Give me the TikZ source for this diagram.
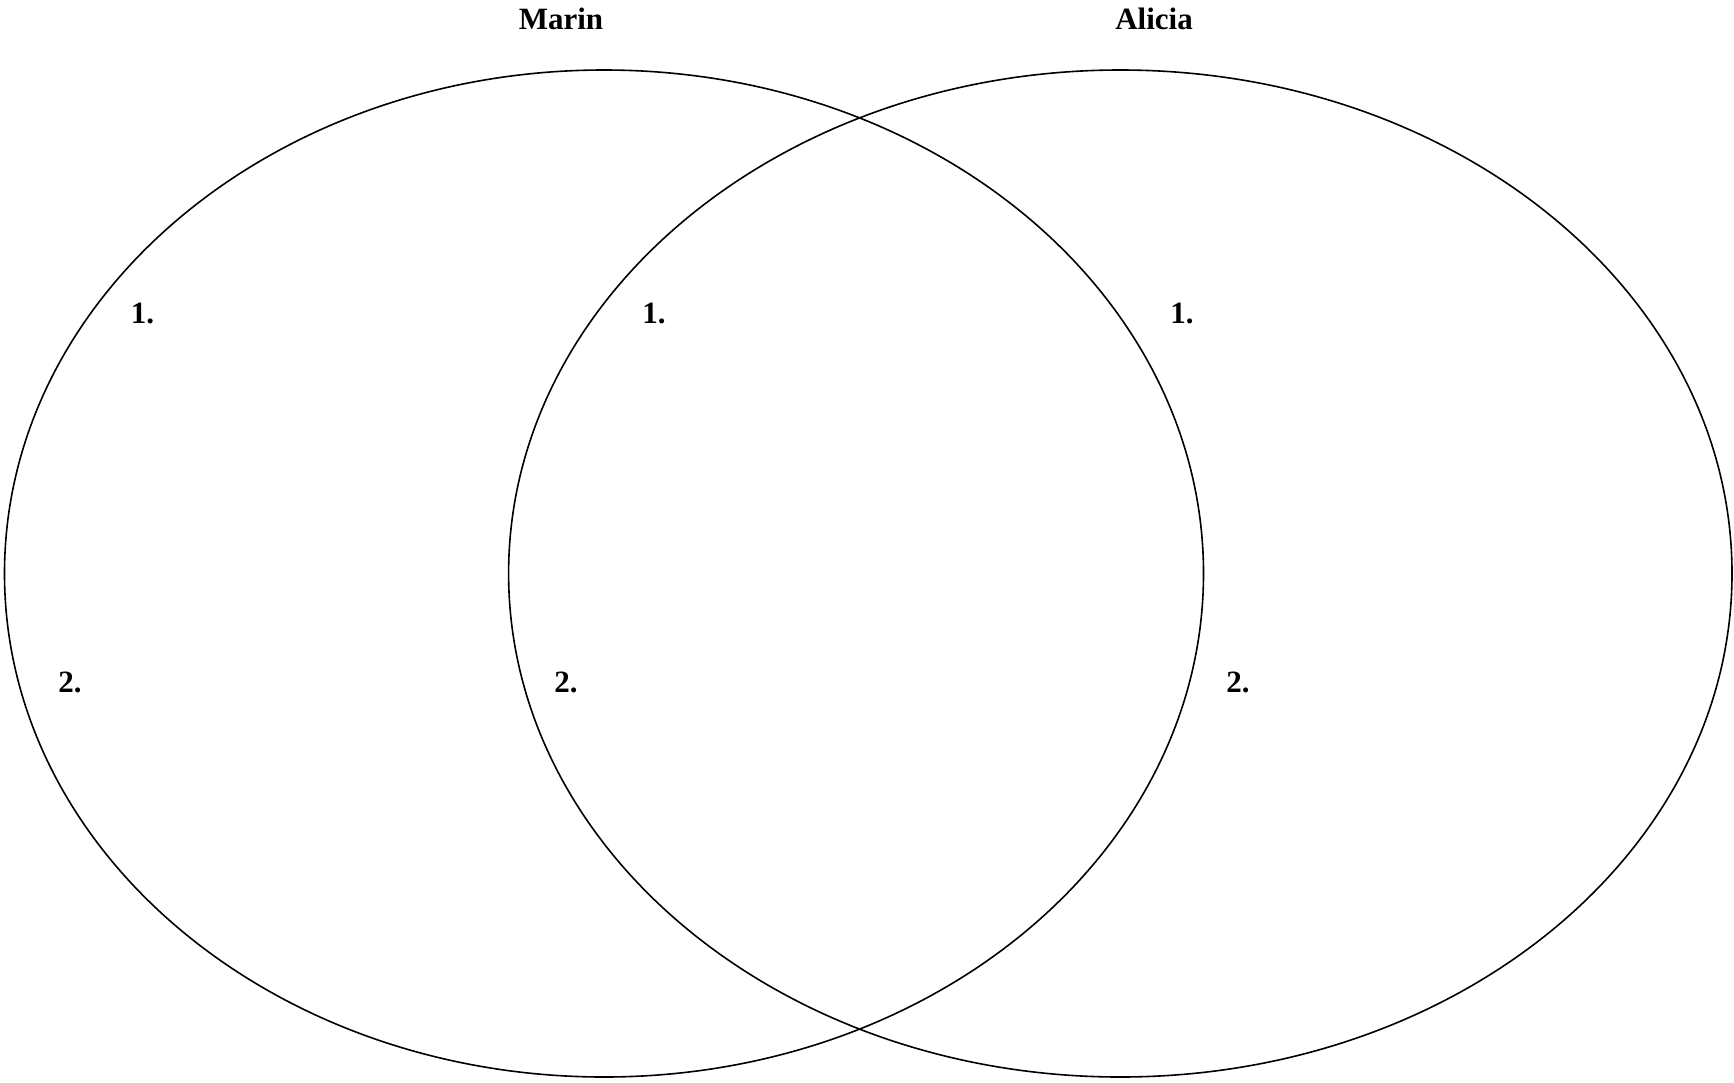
\documentclass[tikz,border=0pt]{standalone}
\usepackage{fontspec}
\setmainfont{Liberation Serif}
\begin{document}
\begin{tikzpicture}[x=1pt,y=-1pt,
  ring/.style={draw=black,line width=1.6pt},
  lbl/.style={anchor=base,inner sep=0pt,font=\fontsize{31}{37}\selectfont\bfseries}]
\useasboundingbox (0,0) rectangle (1734,1082);
\draw[ring] (604,573.5) ellipse [x radius=599.5, y radius=503.5];
\draw[ring] (1120.3,573.5) ellipse [x radius=611.7, y radius=503.5];
\node[lbl] (marin) at (561,29.5) {Marin};
\node[lbl] (alicia) at (1154,29.5) {Alicia};
\node[lbl] (l1) at (142.5,323) {1.};
\node[lbl] (m1) at (654,323) {1.};
\node[lbl] (r1) at (1182,323) {1.};
\node[lbl] (l2) at (70,692) {2.};
\node[lbl] (m2) at (566,692) {2.};
\node[lbl] (r2) at (1238,692) {2.};
\end{tikzpicture}
\end{document}
